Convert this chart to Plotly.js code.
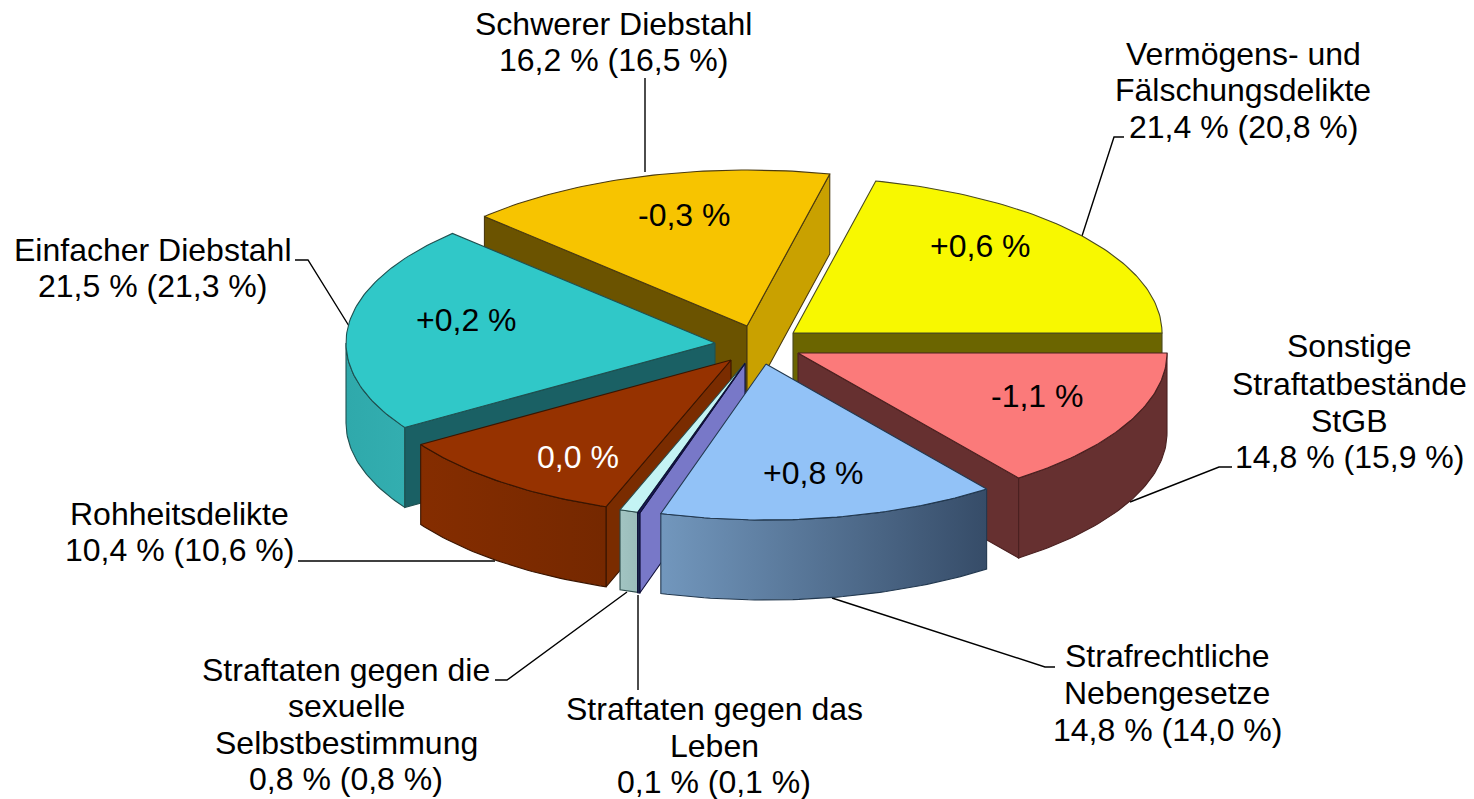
<!DOCTYPE html>
<html><head><meta charset="utf-8">
<script src="https://cdn.plot.ly/plotly-3.0.1.min.js"></script>
<style>html,body{margin:0;padding:0;background:#fff}#c{width:1474px;height:799px}</style>
</head><body><div id="c"></div>
<script>
// ---- data (clockwise, starting with the yellow slice) ----
const categories = ['Vermögens- und Fälschungsdelikte','Sonstige Straftatbestände StGB','Strafrechtliche Nebengesetze','Straftaten gegen das Leben','Straftaten gegen die sexuelle Selbstbestimmung','Rohheitsdelikte','Einfacher Diebstahl','Schwerer Diebstahl'];
const shares   = [21.4,14.8,14.8,0.1,0.8,10.4,21.5,16.2];
const previous = [20.8,15.9,14.0,0.1,0.8,10.6,21.3,16.5];
const changes  = [0.6,-1.1,0.8,null,null,0.0,0.2,-0.3];
const labelLines = [['Vermögens- und','Fälschungsdelikte'],['Sonstige','Straftatbestände','StGB'],['Strafrechtliche','Nebengesetze'],['Straftaten gegen das','Leben'],['Straftaten gegen die','sexuelle','Selbstbestimmung'],['Rohheitsdelikte'],['Einfacher Diebstahl'],['Schwerer Diebstahl']];

// ---- layout and style ----
const FONT='Liberation Sans, Arial, sans-serif', FS=32;
const RX=369, RY=156, H=80, START=77.04;
const apexX=[793,798,766,745,745,731,715,747];
const apexY=[333,353,364,363.5,363,360,343,326];
const drawOrder=[7,0,6,5,1,4,3,2];
const topCol=['#f8f800','#fb7a7a','#92c2f7','#1f1f60','#c4f4f4','#963200','#30c8c8','#f7c400'];
const edgeCol=['#4a4a20','#4a2020','#22384f','#10103a','#2a4a4a','#3a1500','#1f5050','#4a3a10'];
const cutCol=[['#6b6500','#6b6500'],['#663030','#663030'],['#3a4f6b','#3a4f6b'],['#7878c8','#7878c8'],['#101030','#101030'],['#7a2c00','#7a2c00'],['#1a6064','#1a6064'],['#6b5300','#c9a100']];
const wallCol=[['#666',"#666"],['#663030','#663030'],['#7297bd','#364c68'],['#1c2a50','#1c2a50'],['#a2c4c2','#9abcba'],['#852d00','#752800'],['#2fa9ab','#33aeb0'],['#666','#666']];
const labelPos=[[1243,[54,90,127]],[1349,[346,384,421,457]],[1167,[656,693,730]],[714,[709,746,782]],[346,[670,706,743,779]],[179,[514,550]],[152,[250,286]],[613,[24,60]]];
const changePos=[[980,246],[1037,396],[813,473],null,null,[578,457],[466,320],[684,215]];
const leaders=[
 [[645,645],[78,172]],
 [[1124,1114,1082],[137,137,236]],
 [[1232,1219,1130],[467,467,502]],
 [[295,308,349],[260,260,326]],
 [[298,495],[561,561]],
 [[495,507,627],[680,680,592]],
 [[638,638],[595,690]],
 [[1055,1045,832],[667,667,598]]
];

const rad=d=>d*Math.PI/180;
const fmt=v=>v.toFixed(1).replace('.',',');
const traces=[], annotations=[];

leaders.forEach(l=>traces.push({type:'scatter',mode:'lines',x:l[0],y:l[1],line:{color:'#000',width:1.4},hoverinfo:'skip'}));

function poly(xs,ys,fill,line,grad){
  const t={type:'scatter',mode:'lines',x:xs.concat(xs[0]),y:ys.concat(ys[0]),fill:'toself',
    line:{color:line,width:1.1},hoverinfo:'skip'};
  if(grad && grad[0]!==grad[1]) t.fillgradient={type:'horizontal',colorscale:[[0,grad[0]],[1,grad[1]]]};
  else t.fillcolor=fill;
  traces.push(t);
}

let acc=START; const angles=shares.map(v=>{const a0=acc; acc-=v/100*360; return [a0,acc];});
const px=(i,a)=>apexX[i]+RX*Math.cos(rad(a)), py=(i,a)=>apexY[i]-RY*Math.sin(rad(a));
function arc(i,from,to){const n=Math.max(2,Math.ceil(Math.abs(from-to))+1),xs=[],ys=[];
  for(let k=0;k<n;k++){const a=from+(to-from)*k/(n-1);xs.push(px(i,a));ys.push(py(i,a));}return [xs,ys];}

drawOrder.forEach(i=>{
  const [a0,a1]=angles[i], mid=(a0+a1)/2;
  const ix=apexX[i]+RX*.5*Math.cos(rad(mid)), iy=apexY[i]-RY*.5*Math.sin(rad(mid));
  [a0,a1].forEach((a,side)=>{
    const ex=px(i,a), ey=py(i,a);
    const lineY=apexY[i]+(ey-apexY[i])*(ix-apexX[i])/(ex-apexX[i]);
    if(iy<lineY){
      poly([apexX[i],ex,ex,apexX[i]],[apexY[i],ey,ey+H,apexY[i]+H],cutCol[i][side],edgeCol[i]);
    }
  });
  const hi=Math.min(a0,0), lo=Math.max(a1,-180);
  if(hi>lo){
    const [xs,ys]=arc(i,hi,lo);
    poly(xs.concat(xs.slice().reverse()),ys.concat(ys.slice().reverse().map(y=>y+H)),wallCol[i][0],edgeCol[i],wallCol[i]);
  }
  const [xs,ys]=arc(i,a0,a1);
  poly([apexX[i]].concat(xs),[apexY[i]].concat(ys),topCol[i],edgeCol[i]);
});

categories.forEach((c,i)=>{
  const lines=labelLines[i].concat(fmt(shares[i])+' % ('+fmt(previous[i])+' %)');
  lines.forEach((s,k)=>annotations.push({x:labelPos[i][0],y:labelPos[i][1][k],xref:'x',yref:'y',text:s,showarrow:false,xanchor:'center',yanchor:'middle',font:{family:FONT,size:FS,color:'#000'}}));
  if(changes[i]!==null){
    const v=changes[i], s=(v>0?'+':'')+fmt(v)+' %';
    annotations.push({x:changePos[i][0],y:changePos[i][1],xref:'x',yref:'y',text:s,showarrow:false,xanchor:'center',yanchor:'middle',font:{family:FONT,size:FS,color:v===0?'#fff':'#000'}});
  }
});

Plotly.newPlot('c',traces,{
  width:1474,height:799,margin:{l:0,r:0,t:0,b:0},showlegend:false,
  paper_bgcolor:'#fff',plot_bgcolor:'#fff',
  xaxis:{range:[0,1474],visible:false,fixedrange:true},
  yaxis:{range:[799,0],visible:false,fixedrange:true},
  annotations:annotations
},{displayModeBar:false,staticPlot:true});
</script></body></html>
